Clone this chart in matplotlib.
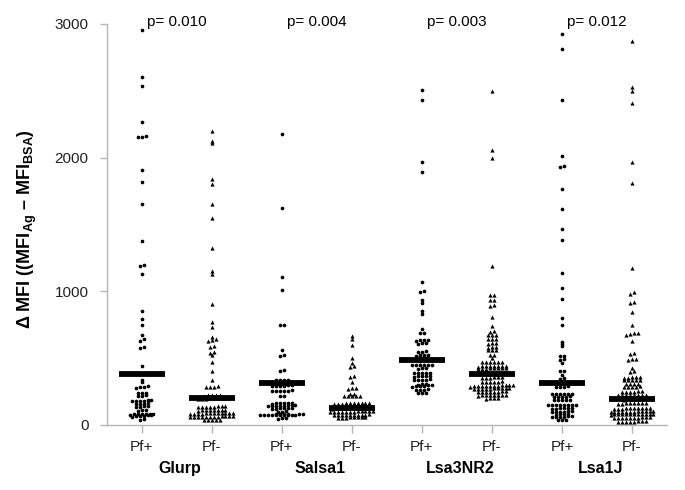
import numpy as np
import matplotlib
matplotlib.use("Agg")
import matplotlib.pyplot as plt
from matplotlib.transforms import blended_transform_factory

plt.rcParams['font.family'] = ['Liberation Sans', 'DejaVu Sans']
plt.rcParams['mathtext.fontset'] = 'custom'
plt.rcParams['mathtext.rm'] = 'Liberation Sans'
plt.rcParams['mathtext.bf'] = 'Liberation Sans:bold'

antigens = ["Glurp", "Salsa1", "Lsa3NR2", "Lsa1J"]
status_labels = ["Pf+", "Pf-", "Pf+", "Pf-", "Pf+", "Pf-", "Pf+", "Pf-"]
p_values = ["p= 0.010", "p= 0.004", "p= 0.003", "p= 0.012"]
medians = [384, 199, 316, 125, 484, 381, 317, 192]

glurp_pos = [2956, 2600, 2535, 2268, 2162, 2152, 2158, 1905, 1817, 1653, 1375, 1200, 1192, 1132,
             855, 793, 746, 675, 640, 632, 585, 577, 441,
             337, 322, 290, 285, 280, 287, 240, 236, 238, 220, 217, 222, 186, 181, 183, 178, 184, 176,
             160, 158, 163, 156, 140, 135, 138, 142, 112, 108, 110, 82, 80, 78, 79, 81, 77, 83, 76, 80,
             66, 68, 63, 65, 40, 45]
glurp_neg = [2199, 2110, 2125, 1840, 1805, 1653, 1546, 1322, 1130, 1150, 905, 768, 735, 661, 640, 636,
             630, 588, 582, 548, 538, 520, 473, 404, 337, 290, 287, 285, 283, 226, 222, 224, 220, 225,
             200, 198, 202, 197, 201, 199, 203, 196,
             140, 137, 135, 138, 136, 139, 134, 141, 113, 112, 110, 114, 111, 109, 115, 108,
             88, 87, 86, 89, 85, 90, 84, 91, 87, 88, 86, 89, 63, 62, 61, 64, 60, 65, 62, 63, 61, 64,
             60, 66, 38, 37, 36, 39, 35]
salsa_pos = [2179, 1621, 1109, 1010, 750, 746, 561, 524, 515, 410, 402, 337, 340, 335, 338, 318, 316,
             320, 314, 322, 312, 317, 315, 294, 296, 292, 295, 293, 297, 257, 255, 259, 256, 258, 254,
             217, 219, 162, 164, 160, 163, 161, 165, 145, 147, 143, 146, 144, 148, 142, 145,
             125, 127, 123, 126, 124, 122, 100, 102, 98, 82, 80, 84, 81, 83, 79,
             75, 76, 74, 77, 73, 75, 76, 74, 72, 78, 50, 52, 48]
salsa_neg = [668, 643, 596, 498, 461, 441, 431, 361, 365, 324, 274, 276, 272, 232, 234, 217, 219, 215,
             218, 216, 162, 164, 160, 163, 161, 165, 159, 166, 158, 167, 137, 139, 135, 138, 136, 140,
             134, 141, 133, 142, 137, 138, 125, 126, 124, 127, 123, 100, 102, 98, 101, 99, 103, 97,
             104, 96, 100, 101, 99, 75, 77, 73, 76, 74, 78, 72, 79, 75, 76, 57, 59, 55, 58, 56, 60, 54, 57]
lsa3_pos = [2508, 2433, 1965, 1890, 1072, 1002, 997, 934, 912, 854, 830, 720, 690, 688, 638, 636, 634,
            632, 612, 610, 608, 550, 548, 546, 522, 520, 518, 521, 500, 498, 502, 486, 482,
            449, 451, 447, 450, 448, 452, 424, 426, 422, 389, 391, 387, 390, 388, 364, 366, 362, 365,
            363, 339, 341, 337, 340, 338, 302, 304, 300, 303, 301, 289, 291, 287, 290, 264, 266, 262,
            265, 239, 241, 237]
lsa3_neg = [2501, 2057, 1994, 1189, 975, 970, 937, 933, 895, 890, 810, 740, 700, 696, 675, 672, 670,
            645, 643, 641, 613, 611, 609, 583, 581, 579, 563, 561, 559, 526, 522, 500, 475, 473, 471,
            474, 472, 470, 443, 441, 439, 442, 440, 438, 444, 437, 426, 424, 422, 425, 423, 421, 427,
            420, 385, 383, 381, 358, 356, 354, 357, 355, 353, 326, 324, 322, 325, 323, 321,
            296, 294, 292, 295, 293, 291, 297, 290, 298, 289, 299, 288, 276, 274, 272, 275, 273, 271,
            277, 270, 278, 269, 251, 249, 247, 250, 248, 246, 252, 245, 226, 224, 222, 225, 223, 221,
            227, 220, 202, 200, 198, 201]
lsa1_pos = [2927, 2815, 2431, 2014, 1932, 1940, 1763, 1615, 1464, 1381, 1135, 1022, 940, 803, 746,
            621, 605, 590, 516, 514, 491, 489, 461, 406, 404, 374, 349, 347, 320, 318, 316, 314,
            287, 289, 285, 288, 232, 234, 230, 233, 231, 235, 212, 214, 210, 213, 211, 187, 189, 185,
            188, 186, 150, 152, 148, 151, 149, 153, 147, 150, 125, 127, 123, 126, 124, 122,
            100, 102, 98, 101, 99, 97, 80, 82, 78, 81, 62, 64, 60, 63, 61, 65, 37, 39, 35]
lsa1_neg = [2872, 2526, 2501, 2408, 1965, 1812, 1176, 995, 982, 921, 910, 848, 748, 686, 680, 690, 676,
            628, 536, 534, 491, 489, 493, 424, 399, 401, 356, 358, 354, 357, 355, 337, 339, 335, 338,
            336, 307, 309, 305, 308, 287, 289, 285, 288, 286, 249, 251, 247, 250, 248, 252,
            224, 226, 222, 225, 223, 227, 221, 228, 192, 194, 190, 193, 191,
            162, 164, 160, 163, 161, 165, 159, 166, 125, 127, 123, 126, 124, 128, 122, 129, 121, 125,
            100, 102, 98, 101, 99, 103, 97, 104, 96, 100, 101, 99, 82, 84, 80, 83, 81, 85, 79, 86,
            78, 82, 83, 81, 55, 57, 53, 56, 54, 58, 52, 59, 51, 55, 25, 27, 23, 26, 24, 28, 22, 29]

groups = [glurp_pos, glurp_neg, salsa_pos, salsa_neg, lsa3_pos, lsa3_neg, lsa1_pos, lsa1_neg]

W, H = 685, 490
fig = plt.figure(figsize=(W / 100, H / 100), dpi=100)
ax_l, ax_r, ax_b, ax_t = 106.7, 667, 425, 24
ax = fig.add_axes([ax_l / W, 1 - ax_b / H, (ax_r - ax_l) / W, (ax_b - ax_t) / H])
xlim = (-0.5, 7.5)
ylim = (0, 3000)
ax.set_xlim(*xlim)
ax.set_ylim(*ylim)

px_per_x = (ax_r - ax_l) / (xlim[1] - xlim[0])
px_per_y = (ax_b - ax_t) / (ylim[1] - ylim[0])


def binned_swarm(values, d_px=3.9, row_px=2.0, max_n=12):
    """Column-scatter layout: group values into rows, spread each row sideways."""
    vals = np.sort(np.asarray(values, dtype=float))
    row_h = row_px / px_per_y
    rows = []
    for v in vals:
        if rows and v - rows[-1][0] < row_h and len(rows[-1]) < max_n:
            rows[-1].append(v)
        else:
            rows.append([v])
    xs, ys = [], []
    for r in rows:
        n = len(r)
        for k, v in enumerate(r):
            xs.append((k - (n - 1) / 2) * d_px / px_per_x)
            ys.append(v)
    return np.array(ys), np.array(xs)


for i, g in enumerate(groups):
    vals, offs = binned_swarm(g)
    if i % 2 == 0:
        ax.scatter(i + offs, vals, s=7, marker='o', color='black', linewidths=0, zorder=3)
    else:
        ax.scatter(i + offs, vals, s=9, marker='^', color='black', linewidths=0, zorder=3)
    ax.hlines(medians[i], i - 0.33, i + 0.33, colors='black', linewidth=4.2, zorder=4)

for s in ['top', 'right']:
    ax.spines[s].set_visible(False)
for s in ['left', 'bottom']:
    ax.spines[s].set_color('#b5b5b5')
    ax.spines[s].set_linewidth(1.0)

ax.set_yticks([0, 1000, 2000, 3000])
ax.set_yticklabels(['0', '1000', '2000', '3000'])
ax.set_xticks(range(8))
ax.set_xticklabels(status_labels)
ax.tick_params(axis='y', length=5, width=1, color='#b5b5b5', pad=8, labelsize=11, labelcolor='#222222')
ax.tick_params(axis='x', length=5.5, width=1, color='#b5b5b5', pad=5, labelsize=11, labelcolor='#222222')

trans = blended_transform_factory(ax.transData, ax.transAxes)
for j, name in enumerate(antigens):
    ax.text(2 * j + 0.55, -0.1097, name, transform=trans, ha='center', va='center',
            fontsize=11.5, fontweight='bold')
    ax.text(2 * j + 0.5, 1.005, p_values[j], transform=trans, ha='center', va='center',
            fontsize=11)

fig.text(27 / W, 1 - 229 / H, r'Δ MFI ((MFI$_{\mathbf{Ag}}$ – MFI$_{\mathbf{BSA}}$)',
         rotation=90, ha='center', va='center', fontsize=13, fontweight='bold')

fig.savefig('out.png', dpi=100)
